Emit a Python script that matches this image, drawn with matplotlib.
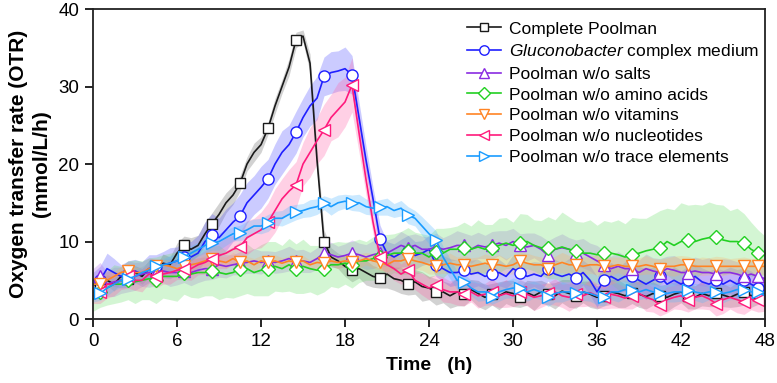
"""OTR-Verläufe der Poolman-Varianten (Mittelwert ± Standardabweichung)."""

import matplotlib
matplotlib.use("Agg")
import matplotlib.pyplot as plt
import numpy as np

plt.rcParams["font.family"] = ["Liberation Sans", "DejaVu Sans"]
plt.rcParams["mathtext.fontset"] = "custom"
plt.rcParams["mathtext.it"] = "Liberation Sans:italic"
plt.rcParams["mathtext.rm"] = "Liberation Sans"

# --------------------------------------------------------------------- Daten
# Zeitraster 0 ... 48 h in 0.5-h-Schritten (97 Werte), je Zeile 4 h
time_h = np.arange(0, 48.5, 0.5)

labels = [
    "Complete Poolman",
    r"$\it{Gluconobacter}$ complex medium",
    "Poolman w/o salts",
    "Poolman w/o amino acids",
    "Poolman w/o vitamins",
    "Poolman w/o nucleotides",
    "Poolman w/o trace elements",
]

otr_complete = [
    4.5, 4.2, 5.0, 4.5, 5.5, 5.2, 6.0, 5.5,
    6.5, 6.0, 7.2, 7.0, 8.5, 9.5, 9.0, 9.5,
    11.0, 12.3, 13.5, 15.0, 16.0, 17.5, 20.0, 21.5,
    22.5, 24.6, 27.5, 30.0, 32.5, 36.0, 36.5, 33.0,
    20.5, 10.0, 8.0, 7.5, 6.8, 6.3, 6.5, 6.0,
    5.5, 5.3, 5.8, 5.2, 5.0, 4.5, 4.8, 4.2,
    4.0, 3.5, 3.5, 3.0, 3.5, 3.2, 3.8, 3.3,
    2.8, 3.2, 3.0, 3.5, 3.3, 2.8, 3.4, 3.0,
    3.5, 3.2, 3.0, 3.6, 3.3, 3.0, 3.5, 3.2,
    2.8, 3.0, 3.5, 3.3, 3.0, 3.4, 3.2, 2.9,
    3.3, 3.0, 2.8, 3.2, 3.5, 3.0, 2.8, 3.3,
    3.0, 3.4, 3.1, 2.8, 3.2, 3.5, 3.0, 3.3,
    3.2,
]
sd_complete = [
    0.6, 0.8, 0.7, 0.9, 0.8, 1.0, 0.9, 1.0,
    1.1, 0.9, 1.2, 1.0, 1.3, 1.2, 1.5, 1.3,
    1.5, 1.4, 1.5, 1.3, 1.2, 1.0, 0.9, 1.2,
    1.0, 0.8, 1.0, 0.9, 1.1, 1.0, 0.8, 1.2,
    1.5, 1.5, 1.2, 1.0, 1.3, 1.5, 1.2, 1.6,
    1.4, 1.3, 1.8, 1.5, 1.7, 1.4, 1.6, 1.9,
    1.5, 1.7, 1.4, 1.6, 1.8, 1.5, 1.3, 1.7,
    1.6, 1.4, 1.8, 1.5, 1.7, 1.3, 1.6, 1.9,
    1.5, 1.4, 1.7, 1.5, 1.8, 1.6, 1.4, 1.7,
    1.5, 1.3, 1.6, 1.8, 1.5, 1.4, 1.7, 1.6,
    1.5, 1.3, 1.8, 1.6, 1.4, 1.7, 1.5, 1.6,
    1.4, 1.8, 1.5, 1.3, 1.6, 1.7, 1.5, 1.4,
    1.5,
]

otr_glucono = [
    4.5, 5.0, 6.5, 6.0, 5.5, 5.8, 6.2, 5.8,
    6.5, 6.8, 7.0, 7.2, 7.5, 8.0, 8.0, 8.5,
    10.0, 10.8, 10.5, 11.5, 12.5, 13.3, 15.0, 16.0,
    17.0, 18.1, 20.0, 21.5, 22.5, 24.1, 26.0, 27.5,
    28.5, 31.3, 31.8, 32.0, 32.3, 31.5, 26.0, 20.5,
    15.5, 10.3, 8.5, 8.0, 8.5, 8.8, 8.2, 8.5,
    9.0, 7.0, 6.5, 6.0, 6.0, 6.3, 5.8, 6.0,
    5.5, 5.8, 6.0, 5.5, 6.5, 6.0, 5.5, 5.8,
    5.5, 6.5, 5.8, 5.5, 5.8, 5.3, 6.0, 5.0,
    3.5, 5.0, 5.5, 5.0, 5.5, 5.5, 5.0, 4.5,
    5.0, 5.5, 4.5, 5.0, 4.5, 5.0, 5.5, 4.8,
    4.5, 5.0, 4.5, 5.0, 4.5, 5.0, 4.5, 4.0,
    4.0,
]
sd_glucono = [
    1.5, 1.8, 2.0, 1.8, 1.5, 1.7, 1.5, 1.6,
    1.8, 1.5, 1.7, 2.0, 1.8, 2.2, 2.0, 2.3,
    2.5, 2.8, 2.5, 2.7, 2.5, 2.8, 2.6, 2.5,
    2.7, 2.5, 2.6, 2.8, 2.5, 2.7, 2.5, 2.6,
    2.8, 2.5, 2.7, 2.6, 2.8, 2.5, 2.0, 1.8,
    1.5, 1.8, 1.5, 1.7, 1.8, 2.0, 1.8, 1.6,
    1.8, 1.5, 1.7, 1.8, 1.6, 1.5, 1.8, 1.7,
    1.6, 1.9, 1.7, 1.5, 1.8, 2.0, 1.7, 1.6,
    1.8, 1.6, 1.9, 1.7, 2.0, 1.8, 1.6, 1.9,
    2.0, 1.7, 1.8, 1.6, 1.9, 1.7, 1.8, 2.0,
    1.7, 1.9, 1.6, 1.8, 1.7, 1.9, 1.6, 1.8,
    1.7, 1.6, 1.8, 1.7, 1.9, 1.6, 1.7, 1.5,
    1.5,
]

otr_no_salts = [
    5.0, 5.5, 4.5, 4.8, 5.0, 5.5, 5.5, 5.8,
    6.0, 6.0, 6.2, 6.0, 6.0, 6.2, 6.0, 6.3,
    6.5, 6.5, 7.0, 6.8, 7.0, 7.2, 7.3, 7.5,
    7.3, 7.5, 7.3, 7.5, 7.8, 7.5, 7.5, 7.3,
    7.8, 8.5, 8.3, 8.0, 8.2, 8.5, 8.3, 8.0,
    8.3, 8.5, 8.5, 9.0, 9.5, 9.2, 9.5, 9.0,
    9.0, 9.3, 9.0, 9.2, 9.5, 9.5, 9.0, 9.5,
    9.3, 9.5, 9.8, 9.5, 10.0, 9.5, 9.3, 9.5,
    9.0, 8.2, 9.0, 9.2, 9.0, 8.5, 8.5, 8.0,
    7.5, 7.0, 6.5, 6.8, 6.5, 6.5, 6.0, 6.5,
    6.2, 6.0, 6.5, 6.3, 6.0, 6.0, 6.2, 6.0,
    6.0, 5.8, 6.0, 6.0, 5.8, 5.5, 5.8, 5.5,
    5.2,
]
sd_no_salts = [
    1.5, 1.8, 1.6, 1.9, 1.7, 2.0, 1.8, 1.6,
    1.9, 1.7, 1.5, 1.8, 1.6, 1.5, 1.7, 1.6,
    1.5, 1.4, 1.6, 1.5, 1.3, 1.5, 1.4, 1.6,
    1.5, 1.3, 1.4, 1.5, 1.6, 1.4, 1.5, 1.3,
    1.4, 1.5, 1.6, 1.4, 1.5, 1.7, 1.5, 1.6,
    1.8, 1.6, 1.7, 1.5, 1.8, 1.6, 1.5, 1.7,
    1.6, 1.8, 1.5, 1.7, 1.9, 1.6, 1.8, 1.7,
    1.5, 1.8, 1.6, 1.9, 1.7, 1.5, 1.8, 1.6,
    1.7, 1.9, 1.6, 1.8, 1.5, 1.7, 1.9, 1.8,
    2.0, 1.8, 1.6, 1.9, 1.7, 1.8, 1.6, 1.9,
    1.7, 1.8, 1.6, 1.9, 1.7, 1.6, 1.8, 1.7,
    1.9, 1.6, 1.8, 1.7, 1.6, 1.8, 1.7, 1.6,
    1.5,
]

otr_no_amino = [
    2.5, 3.5, 4.0, 4.5, 4.5, 5.0, 4.8, 5.0,
    5.2, 5.0, 5.5, 5.5, 5.5, 6.0, 5.8, 6.0,
    6.0, 6.2, 6.0, 5.8, 6.0, 6.5, 6.5, 6.0,
    6.3, 6.5, 6.8, 6.5, 7.0, 6.5, 6.8, 6.5,
    6.3, 6.5, 7.0, 7.0, 7.2, 7.0, 7.5, 7.5,
    7.8, 8.0, 8.2, 8.5, 8.5, 8.8, 8.5, 8.5,
    8.0, 8.7, 8.5, 9.0, 9.0, 9.2, 9.0, 9.3,
    9.0, 9.2, 9.5, 9.8, 9.5, 9.8, 10.0, 9.5,
    9.2, 9.2, 9.0, 9.3, 9.0, 8.8, 8.5, 8.5,
    8.3, 8.5, 8.5, 8.3, 8.0, 8.3, 8.5, 8.8,
    9.0, 9.2, 10.0, 9.5, 10.0, 10.2, 10.0, 10.3,
    10.5, 10.6, 10.2, 10.0, 10.0, 9.8, 9.0, 8.5,
    8.2,
]
sd_no_amino = [
    1.5, 2.0, 2.2, 2.5, 2.3, 2.5, 2.8, 2.5,
    2.7, 3.0, 2.8, 3.0, 3.2, 2.8, 3.0, 3.3,
    3.0, 3.2, 3.5, 3.0, 3.3, 3.5, 3.2, 3.0,
    3.3, 3.5, 3.2, 3.0, 3.4, 3.2, 3.5, 3.0,
    3.2, 3.0, 2.8, 3.0, 2.7, 3.0, 2.8, 2.5,
    2.8, 3.0, 2.7, 2.5, 2.8, 3.0, 2.7, 2.5,
    2.8, 3.0, 3.2, 2.8, 3.0, 3.3, 3.0, 3.5,
    3.2, 3.0, 3.5, 3.3, 3.0, 3.8, 3.5, 3.3,
    3.5, 4.0, 3.8, 4.5, 4.2, 3.8, 4.0, 4.3,
    3.8, 4.2, 4.0, 4.5, 4.3, 4.8, 4.5, 4.2,
    4.5, 4.8, 4.3, 4.6, 5.0, 4.5, 4.8, 4.4,
    4.6, 4.2, 4.5, 4.0, 4.3, 3.8, 3.5, 3.0,
    2.5,
]

otr_no_vitamins = [
    4.5, 4.5, 5.0, 5.5, 6.0, 6.2, 6.0, 6.0,
    6.5, 6.8, 7.0, 6.8, 6.5, 6.8, 7.0, 7.2,
    7.5, 7.8, 7.5, 7.3, 7.8, 7.3, 7.5, 7.0,
    7.5, 7.3, 7.5, 7.2, 7.5, 7.3, 7.5, 7.0,
    7.3, 7.2, 7.5, 7.3, 7.5, 7.3, 7.5, 7.8,
    7.5, 7.3, 7.0, 7.5, 7.5, 7.8, 7.5, 7.3,
    7.0, 6.8, 7.0, 7.2, 7.0, 7.0, 6.8, 7.0,
    7.2, 7.0, 7.0, 6.8, 7.0, 7.5, 7.2, 7.0,
    7.0, 6.5, 7.0, 7.3, 7.0, 7.0, 6.8, 7.0,
    7.0, 6.8, 6.8, 7.0, 6.8, 6.8, 6.8, 7.0,
    6.8, 6.5, 6.8, 6.8, 7.0, 7.0, 6.8, 6.8,
    6.8, 6.8, 6.8, 6.8, 6.8, 6.8, 6.8, 6.8,
    6.8,
]
sd_no_vitamins = [
    0.5, 0.6, 0.7, 0.6, 0.8, 0.7, 0.6, 0.8,
    0.7, 0.6, 0.8, 0.7, 0.6, 0.7, 0.8, 0.6,
    0.7, 0.8, 0.6, 0.7, 0.8, 0.7, 0.6, 0.8,
    0.7, 0.6, 0.8, 0.7, 0.6, 0.8, 0.7, 0.6,
    0.8, 0.7, 0.6, 0.8, 0.7, 0.8, 0.9, 0.8,
    0.9, 1.0, 0.9, 1.1, 1.0, 0.9, 1.1, 1.0,
    1.2, 1.0, 1.1, 1.3, 1.0, 1.2, 1.1, 1.0,
    1.2, 1.1, 1.3, 1.0, 1.2, 1.1, 1.3, 1.2,
    1.0, 1.2, 1.1, 1.3, 1.2, 1.0, 1.2, 1.1,
    1.3, 1.1, 1.2, 1.0, 1.2, 1.3, 1.1, 1.2,
    1.0, 1.2, 1.1, 1.3, 1.2, 1.1, 1.0, 1.2,
    1.1, 1.3, 1.2, 1.0, 1.1, 1.2, 1.0, 1.1,
    1.0,
]

otr_no_nucleo = [
    3.0, 3.5, 4.5, 4.5, 5.0, 5.5, 5.0, 5.0,
    5.8, 5.5, 5.8, 6.0, 6.3, 6.5, 6.5, 7.0,
    7.3, 7.8, 8.2, 8.5, 9.0, 9.3, 10.5, 11.0,
    11.5, 12.5, 14.0, 15.5, 16.5, 17.3, 20.0, 21.5,
    23.0, 24.4, 26.0, 27.0, 28.0, 30.2, 24.0, 18.0,
    12.5, 8.0, 7.0, 6.5, 5.8, 6.3, 5.0, 4.5,
    4.0, 4.4, 3.8, 3.5, 3.5, 3.2, 3.5, 3.0,
    3.2, 3.5, 3.0, 3.3, 3.0, 3.5, 3.2, 2.8,
    3.0, 3.3, 3.5, 3.0, 2.8, 3.2, 3.0, 3.4,
    3.0, 2.8, 3.2, 3.0, 2.7, 3.0, 3.3, 2.8,
    2.5, 1.8, 2.5, 2.8, 3.0, 2.5, 2.8, 3.0,
    2.6, 2.0, 2.5, 2.8, 2.5, 2.2, 2.6, 2.4,
    2.5,
]
sd_no_nucleo = [
    1.0, 1.5, 1.8, 1.5, 1.2, 1.5, 1.3, 1.5,
    1.2, 1.5, 1.3, 1.5, 1.2, 1.4, 1.5, 1.3,
    1.5, 1.8, 1.7, 2.0, 1.8, 2.0, 2.2, 2.0,
    2.3, 2.5, 2.8, 2.6, 2.8, 3.0, 2.8, 3.2,
    3.0, 3.3, 3.0, 3.5, 3.2, 3.5, 2.5, 2.0,
    1.5, 1.3, 1.2, 1.5, 1.3, 1.5, 1.2, 1.4,
    1.5, 1.3, 1.6, 1.4, 1.7, 1.5, 1.3, 1.6,
    1.4, 1.7, 1.5, 1.8, 1.4, 1.6, 1.5, 1.7,
    1.5, 1.4, 1.7, 1.5, 1.8, 1.6, 1.4, 1.7,
    1.6, 1.5, 1.8, 1.6, 1.4, 1.7, 1.5, 1.8,
    1.6, 1.4, 1.7, 1.5, 1.8, 1.6, 1.5, 1.7,
    1.4, 1.6, 1.8, 1.5, 1.7, 1.6, 1.4, 1.5,
    1.5,
]

otr_no_trace = [
    3.0, 3.3, 4.0, 4.5, 5.0, 5.2, 5.5, 6.0,
    6.3, 6.8, 7.0, 7.2, 7.5, 8.0, 8.5, 9.0,
    9.5, 9.8, 10.0, 10.5, 11.0, 11.1, 11.5, 12.0,
    12.0, 12.4, 13.0, 13.0, 13.5, 13.8, 14.0, 14.3,
    14.5, 15.0, 14.5, 15.0, 15.2, 15.0, 15.0, 14.5,
    14.3, 14.4, 14.5, 14.0, 14.3, 13.4, 13.0, 12.0,
    11.0, 10.2, 8.0, 6.5, 5.0, 4.8, 4.0, 3.5,
    3.5, 2.9, 3.5, 3.8, 4.0, 4.0, 3.5, 3.8,
    3.5, 2.8, 3.3, 3.5, 3.5, 3.4, 3.5, 3.3,
    3.0, 2.8, 3.5, 3.5, 3.8, 3.7, 3.5, 3.8,
    3.5, 3.4, 3.3, 3.5, 3.5, 3.7, 3.5, 3.3,
    3.5, 3.5, 3.3, 3.5, 3.8, 3.8, 3.5, 3.5,
    3.0,
]
sd_no_trace = [
    0.8, 0.9, 1.0, 0.8, 0.9, 1.0, 0.9, 0.8,
    1.0, 0.9, 0.8, 1.0, 0.9, 1.1, 1.0, 0.9,
    1.0, 0.9, 1.1, 1.0, 0.9, 1.0, 1.1, 0.9,
    1.0, 1.1, 0.9, 1.0, 1.1, 1.0, 0.9, 1.1,
    1.0, 0.9, 1.1, 1.0, 0.9, 1.0, 1.1, 1.0,
    0.9, 1.0, 1.1, 0.9, 1.0, 1.1, 1.0, 1.2,
    1.3, 1.2, 1.4, 1.3, 1.2, 1.1, 1.0, 1.2,
    1.1, 1.0, 1.2, 1.1, 1.3, 1.0, 1.2, 1.1,
    1.0, 1.2, 1.1, 1.3, 1.0, 1.2, 1.1, 1.0,
    1.2, 1.1, 1.0, 1.3, 1.1, 1.2, 1.0, 1.1,
    1.2, 1.0, 1.1, 1.3, 1.2, 1.0, 1.1, 1.2,
    1.0, 1.1, 1.2, 1.0, 1.3, 1.1, 1.0, 1.2,
    1.0,
]

means = [otr_complete, otr_glucono, otr_no_salts, otr_no_amino,
         otr_no_vitamins, otr_no_nucleo, otr_no_trace]
sds = [sd_complete, sd_glucono, sd_no_salts, sd_no_amino,
       sd_no_vitamins, sd_no_nucleo, sd_no_trace]

# --------------------------------------------------------------------- Stil
colors = ["#1a1a1a", "#1f1fff", "#8a2be2", "#22d022",
          "#ff8424", "#ff1a7c", "#1a9cff"]
band_colors = ["#7f7f7f", "#5555ff", "#b070f0", "#70e070",
               "#ffb060", "#ff66aa", "#55b8ff"]
band_alpha = [0.35, 0.3, 0.3, 0.3, 0.25, 0.3, 0.3]
markers = ["s", "o", "^", "D", "v", "<", ">"]
msizes = [7.5, 8, 8.5, 7, 8.5, 8.5, 8.5]
# Symbole alle 2 h, dazu eines kurz vor dem Ende
mark_idx = list(range(1, 94, 4)) + [95]

fig = plt.figure(figsize=(7.77, 3.83), dpi=100)
ax = fig.add_axes([0.1197, 0.167, 0.8649, 0.8095])

# Bänder zuerst, damit alle Linien darüber liegen
for m, s, c, a in zip(means, sds, band_colors, band_alpha):
    m = np.asarray(m)
    s = np.asarray(s)
    ax.fill_between(time_h, m - s, m + s, color=c, alpha=a, lw=0)

for m, c, mk, ms, lab in zip(means, colors, markers, msizes, labels):
    ax.plot(time_h, m, color=c, lw=1.2, marker=mk, markersize=ms,
            markevery=mark_idx, markerfacecolor="white", markeredgecolor=c,
            markeredgewidth=1.0, label=lab)

ax.set_xlim(0, 48)
ax.set_ylim(0, 40)
ax.set_xticks(np.arange(0, 49, 6))
ax.set_yticks(np.arange(0, 41, 10))
ax.tick_params(direction="out", length=6, width=1.2, labelsize=13.5, pad=4)
for sp in ax.spines.values():
    sp.set_linewidth(1.3)
    sp.set_color("#222222")

ax.set_xlabel("Time   (h)", fontsize=14, fontweight="bold", labelpad=5)
ax.set_ylabel("Oxygen transfer rate (OTR)\n(mmol/L/h)", fontsize=15,
              fontweight="bold", labelpad=5, linespacing=1.25)

leg = ax.legend(loc="upper left", bbox_to_anchor=(0.556, 0.96), frameon=False,
                fontsize=12.5, handlelength=2.0, handletextpad=0.45,
                labelspacing=0.32, borderaxespad=0.0, borderpad=0.0,
                markerscale=0.85)

fig.savefig("out.png", dpi=100)
